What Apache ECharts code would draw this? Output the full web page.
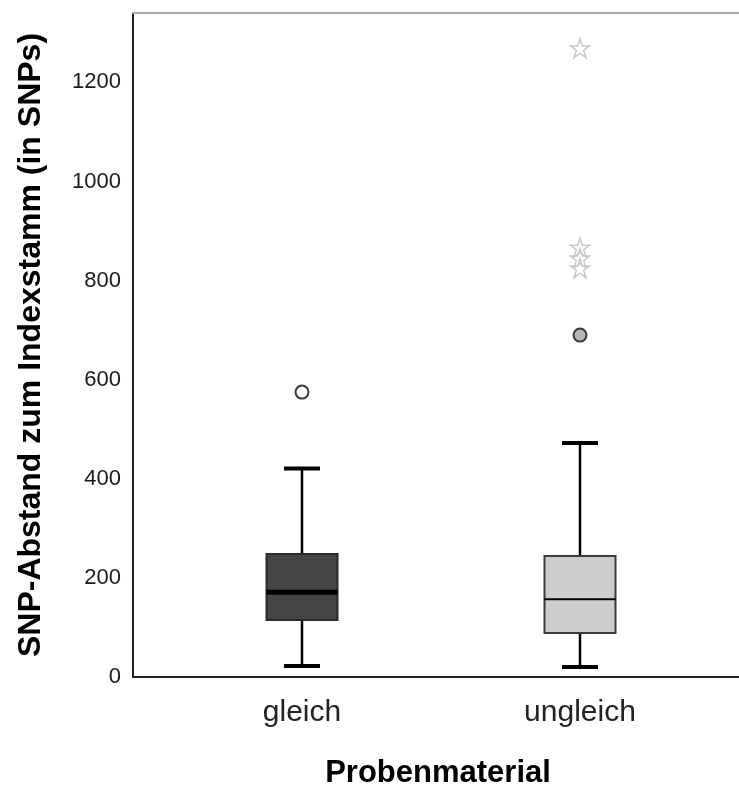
<!DOCTYPE html>
<html>
<head>
<meta charset="utf-8">
<script src="https://cdn.jsdelivr.net/npm/echarts@6/dist/echarts.min.js"></script>
<style>
html,body{margin:0;padding:0;background:#fff;}
#chart{width:739px;height:786px;}
</style>
</head>
<body>
<div id="chart"></div>
<script>
// ---- data ----
const categories = ['gleich', 'ungleich'];
const whiskerLow  = [22, 20];
const q1          = [115, 89];
const median      = [171, 157];
const q3          = [248, 244];
const whiskerHigh = [421, 472];
// outliers (circles) and extremes (stars): [categoryIndex, value]
const outliers = [[0, 575], [1, 690]];
const extremes = [[1, 1269], [1, 867], [1, 845], [1, 825]];
const yTicks = [0, 200, 400, 600, 800, 1000, 1200];

// ---- build ----
const boxData = categories.map((c, i) => [i, whiskerLow[i], q1[i], median[i], q3[i], whiskerHigh[i]]);
const boxFill = ['#454545', '#cdcdcd'];
const boxBorder = ['#2a2a2a', '#3a3a3a'];
const medianWidth = [5, 2];
const outlierFill = ['#ffffff', '#b4b4b4'];

const chart = echarts.init(document.getElementById('chart'), null, {renderer: 'canvas'});
const pxPerUnit = 278;
const gridLeft = 133, gridRight = -4, W = 739;
const xMin = -(302 - gridLeft) / pxPerUnit;
const xMax = xMin + (W - gridLeft - gridRight) / pxPerUnit;

const starPath = 'path://M50,2 L61.8,38 L99,38 L69,60 L80.5,96 L50,74 L19.5,96 L31,60 L1,38 L38.2,38 Z';
const font = 'Liberation Sans, Arial, sans-serif';

function catLabel(v) {
  for (let i = 0; i < categories.length; i++) {
    if (Math.abs(v - i) < 1e-6) return categories[i];
  }
  return '';
}

chart.setOption({
  animation: false,
  backgroundColor: '#ffffff',
  grid: {
    left: gridLeft, right: gridRight, top: 13, bottom: 109,
    outerBoundsMode: 'none', containLabel: false,
    show: false
  },
  xAxis: [{
    type: 'value',
    position: 'bottom',
    min: xMin, max: xMax,
    splitLine: {show: false},
    axisTick: {show: false},
    axisLine: {show: true, onZero: false, lineStyle: {color: '#222', width: 2}},
    axisLabel: {
      margin: 21,
      fontFamily: font,
      fontSize: 30, color: '#222',
      showMinLabel: true, showMaxLabel: true,
      formatter: catLabel
    },
    name: 'Probenmaterial',
    nameLocation: 'middle',
    nameGap: 81,
    nameTextStyle: {fontFamily: font, fontSize: 31, fontWeight: 'bold', color: '#000'}
  }, {
    type: 'value',
    position: 'top',
    min: xMin, max: xMax,
    splitLine: {show: false},
    axisTick: {show: false},
    axisLabel: {show: false},
    axisLine: {show: true, onZero: false, lineStyle: {color: '#a8a8a8', width: 2}}
  }],
  yAxis: {
    type: 'value',
    min: 0, max: 1340, interval: 200,
    splitLine: {show: false},
    axisTick: {show: false},
    axisLine: {show: true, onZero: false, lineStyle: {color: '#222', width: 2}},
    axisLabel: {
      margin: 12,
      fontFamily: font,
      fontSize: 22, color: '#1a1a1a',
      formatter: function (v) { const r = Math.round(v); return (yTicks.indexOf(r) >= 0 && Math.abs(v - r) < 1e-6) ? String(r) : ''; }
    },
    name: 'SNP-Abstand zum Indexstamm (in SNPs)',
    nameLocation: 'middle',
    nameGap: 86,
    nameTextStyle: {fontFamily: font, fontSize: 32, fontWeight: 'bold', color: '#000'}
  },
  series: [
    {
      type: 'custom',
      data: boxData,
      xAxisIndex: 0,
      z: 3,
      renderItem: function (params, api) {
        const i = params.dataIndex;
        const x = api.value(0);
        const lo = api.coord([x, api.value(1)]);
        const p1 = api.coord([x, api.value(2)]);
        const pm = api.coord([x, api.value(3)]);
        const p3 = api.coord([x, api.value(4)]);
        const hi = api.coord([x, api.value(5)]);
        const halfBox = 35.5, halfCap = 18;
        const lineStyle = {stroke: '#000', lineWidth: 2.5};
        return {
          type: 'group',
          children: [
            {type: 'line', shape: {x1: lo[0], y1: lo[1], x2: p1[0], y2: p1[1]}, style: lineStyle},
            {type: 'line', shape: {x1: p3[0], y1: p3[1], x2: hi[0], y2: hi[1]}, style: lineStyle},
            {type: 'line', shape: {x1: lo[0] - halfCap, y1: lo[1], x2: lo[0] + halfCap, y2: lo[1]}, style: {stroke: '#000', lineWidth: 4}},
            {type: 'line', shape: {x1: hi[0] - halfCap, y1: hi[1], x2: hi[0] + halfCap, y2: hi[1]}, style: {stroke: '#000', lineWidth: 4}},
            {type: 'rect', shape: {x: p3[0] - halfBox, y: p3[1], width: 2 * halfBox, height: p1[1] - p3[1]},
              style: {fill: boxFill[i], stroke: boxBorder[i], lineWidth: 2}},
            {type: 'line', shape: {x1: pm[0] - halfBox, y1: pm[1], x2: pm[0] + halfBox, y2: pm[1]},
              style: {stroke: '#000', lineWidth: medianWidth[i]}}
          ]
        };
      }
    },
    {
      type: 'scatter',
      data: outliers,
      xAxisIndex: 0,
      symbol: 'circle',
      symbolSize: 13,
      z: 4,
      itemStyle: {
        color: function (p) { return outlierFill[p.data[0]]; },
        borderColor: '#3a3a3a', borderWidth: 2, opacity: 1
      }
    },
    {
      type: 'scatter',
      data: extremes,
      xAxisIndex: 0,
      symbol: starPath,
      symbolSize: 19,
      z: 4,
      itemStyle: {color: 'rgba(0,0,0,0)', borderColor: '#c8c8c8', borderWidth: 1.5, opacity: 1}
    }
  ]
});
</script>
</body>
</html>
